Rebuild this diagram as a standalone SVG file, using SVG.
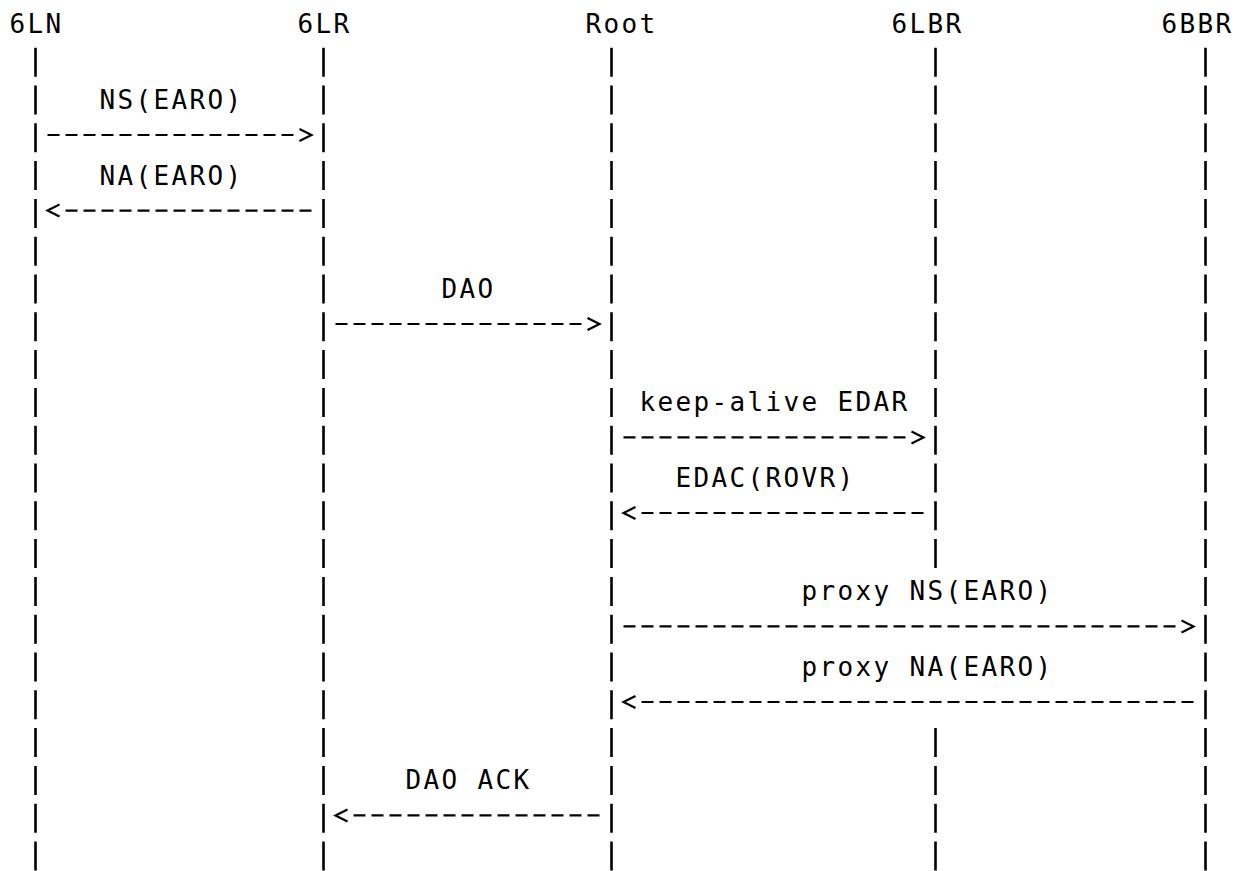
<svg xmlns="http://www.w3.org/2000/svg" width="1244" height="871" viewBox="0 0 1244 871">
<style>
  text { font-family: "DejaVu Sans Mono", "Liberation Mono", monospace; font-size: 26px; letter-spacing: 2.35px; fill: #000; }
  .life { stroke: #000; stroke-width: 2.6; stroke-dasharray: 29 8.8; fill: none; }
  .msg { stroke: #000; stroke-width: 2.2; stroke-dasharray: 12 6; fill: none; marker-end: url(#chev); }
</style>
<defs>
  <marker id="chev" markerUnits="userSpaceOnUse" viewBox="-2 -8 24 16" refX="0" refY="0" markerWidth="24" markerHeight="16" orient="auto" overflow="visible">
    <path d="M 6 -6 L 18 0 L 6 6" fill="none" stroke="#000" stroke-width="2.2" stroke-linejoin="miter"/>
  </marker>
</defs>
<rect width="1244" height="871" fill="#fff"/>
<g id="node-6LN">
  <text x="9.5" y="33.3">6LN</text>
  <line class="life" x1="35.5" y1="47.7" x2="35.5" y2="871"/>
</g>
<g id="node-6LR">
  <text x="297.5" y="33.3">6LR</text>
  <line class="life" x1="323.5" y1="47.7" x2="323.5" y2="871"/>
</g>
<g id="node-Root">
  <text x="585.5" y="33.3">Root</text>
  <line class="life" x1="611.5" y1="47.7" x2="611.5" y2="871"/>
</g>
<g id="node-6LBR">
  <text x="891.5" y="33.3">6LBR</text>
  <line class="life" x1="935.5" y1="47.7" x2="935.5" y2="568.1"/>
  <line class="life" x1="935.5" y1="728.1" x2="935.5" y2="871"/>
</g>
<g id="node-6BBR">
  <text x="1161.5" y="33.3">6BBR</text>
  <line class="life" x1="1205.5" y1="47.7" x2="1205.5" y2="871"/>
</g>
<g id="connectors">
  <line class="msg" x1="47.5" y1="135" x2="293.5" y2="135"/>
  <text x="99.5" y="108.9">NS(EARO)</text>
  <line class="msg" x1="311.5" y1="210.6" x2="65.5" y2="210.6"/>
  <text x="99.5" y="184.5">NA(EARO)</text>
  <line class="msg" x1="335.5" y1="324" x2="581.5" y2="324"/>
  <text x="441.5" y="297.9">DAO</text>
  <line class="msg" x1="623.5" y1="437.4" x2="905.5" y2="437.4"/>
  <text x="639.5" y="411.3">keep-alive EDAR</text>
  <line class="msg" x1="923.5" y1="513" x2="641.5" y2="513"/>
  <text x="675.5" y="486.9">EDAC(ROVR)</text>
  <line class="msg" x1="623.5" y1="626.4" x2="1175.5" y2="626.4"/>
  <text x="801.5" y="600.3">proxy NS(EARO)</text>
  <line class="msg" x1="1193.5" y1="702" x2="641.5" y2="702"/>
  <text x="801.5" y="675.9">proxy NA(EARO)</text>
  <line class="msg" x1="599.5" y1="815.4" x2="353.5" y2="815.4"/>
  <text x="405.5" y="789.3">DAO ACK</text>
</g>
</svg>
